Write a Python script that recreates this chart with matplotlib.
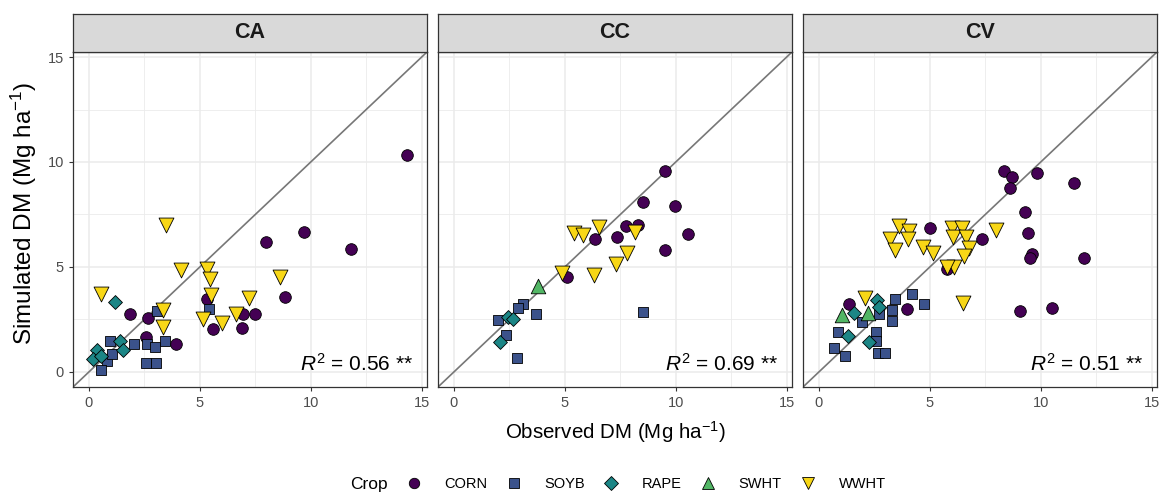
import numpy as np
import matplotlib.pyplot as plt
from matplotlib.lines import Line2D
from matplotlib.ticker import MultipleLocator

plt.rcParams['font.family'] = ['Liberation Sans', 'DejaVu Sans']
plt.rcParams['mathtext.fontset'] = 'custom'
plt.rcParams['mathtext.rm'] = 'Liberation Sans'
plt.rcParams['mathtext.it'] = 'Liberation Sans:italic'

CROPS = ["CORN", "SOYB", "RAPE", "SWHT", "WWHT"]
SITES = ["CA", "CC", "CV"]
R2_LABELS = ["0.56", "0.69", "0.51"]

# observed / simulated DM per site, one list per crop
CA_OBS = {
    "CORN": [1.87, 2.64, 2.58, 3.93, 5.31, 5.58, 6.93, 7.5, 6.88, 8.85, 8.0, 9.7, 11.8, 14.33],
    "SOYB": [3.07, 5.43, 0.97, 2.02, 2.62, 2.97, 3.45, 0.82, 1.02, 0.52, 2.58, 3.03],
    "RAPE": [1.17, 0.37, 0.19, 0.52, 1.38, 1.53],
    "SWHT": [],
    "WWHT": [0.52, 4.15, 5.34, 5.47, 5.5, 7.23, 8.59, 3.34, 3.33, 5.16, 6.0, 6.63, 3.46],
}
CA_SIM = {
    "CORN": [2.75, 2.59, 1.67, 1.35, 3.46, 2.03, 2.78, 2.78, 2.11, 3.59, 6.21, 6.66, 5.87, 10.33],
    "SOYB": [2.9, 2.98, 1.48, 1.35, 1.32, 1.19, 1.48, 0.52, 0.87, 0.08, 0.41, 0.44],
    "RAPE": [3.35, 1.03, 0.6, 0.76, 1.48, 1.03],
    "SWHT": [],
    "WWHT": [3.7, 4.84, 4.89, 4.41, 3.65, 3.54, 4.54, 2.94, 2.14, 2.54, 2.35, 2.75, 7.0],
}

CC_OBS = {
    "CORN": [9.5, 8.53, 9.98, 7.75, 8.3, 6.35, 7.36, 10.57, 9.5, 5.1],
    "SOYB": [3.12, 2.9, 3.69, 8.5, 2.0, 2.34, 2.82],
    "RAPE": [2.45, 2.64, 2.07],
    "SWHT": [3.8],
    "WWHT": [5.41, 5.8, 6.53, 8.18, 7.8, 7.3, 4.85, 6.31],
}
CC_SIM = {
    "CORN": [9.57, 8.11, 7.92, 6.95, 7.0, 6.32, 6.44, 6.57, 5.81, 4.54],
    "SOYB": [3.24, 3.02, 2.75, 2.83, 2.48, 1.76, 0.65],
    "RAPE": [2.63, 2.51, 1.44],
    "SWHT": [4.1],
    "WWHT": [6.6, 6.52, 6.92, 6.68, 5.68, 5.14, 4.73, 4.62],
}

CV_OBS = {
    "CORN": [8.32, 8.71, 8.62, 9.83, 11.52, 9.31, 9.41, 9.61, 9.53, 11.97, 5.02, 7.35, 5.77,
             9.07, 10.5, 3.95, 1.37],
    "SOYB": [4.2, 3.45, 4.74, 3.27, 2.69, 3.27, 1.94, 0.87, 2.57, 2.57, 0.68, 1.17, 2.64, 2.97],
    "RAPE": [2.6, 2.7, 1.59, 1.32, 2.27],
    "SWHT": [1.05, 2.22],
    "WWHT": [3.59, 4.05, 3.22, 4.03, 3.43, 4.68, 5.13, 6.0, 6.45, 6.03, 6.62, 7.98, 6.75, 6.53,
             6.1, 5.77, 6.51, 2.09],
}
CV_SIM = {
    "CORN": [9.59, 9.27, 8.78, 9.49, 8.98, 7.63, 6.6, 5.62, 5.44, 5.44, 6.87, 6.33, 4.89,
             2.92, 3.06, 2.98, 3.22],
    "SOYB": [3.71, 3.46, 3.22, 2.95, 2.76, 2.44, 2.4, 1.92, 1.92, 1.49, 1.13, 0.76, 0.89, 0.92],
    "RAPE": [3.43, 3.11, 2.79, 1.73, 1.44],
    "SWHT": [2.71, 2.79],
    "WWHT": [6.95, 6.73, 6.32, 6.32, 5.81, 5.97, 5.68, 6.87, 6.84, 6.41, 6.41, 6.76, 5.92, 5.52,
             4.98, 5.02, 3.3, 3.51],
}

OBS = [CA_OBS, CC_OBS, CV_OBS]
SIM = [CA_SIM, CC_SIM, CV_SIM]

COLORS = {"CORN": "#440154", "SOYB": "#3B528B", "RAPE": "#1C8686",
          "SWHT": "#52B665", "WWHT": "#F8D716"}
MARKERS = {"CORN": "o", "SOYB": "s", "RAPE": "D", "SWHT": "^", "WWHT": "v"}
SIZES = {"CORN": 70, "SOYB": 60, "RAPE": 50, "SWHT": 110, "WWHT": 115}

W, H = 1161, 493
LIM = (-0.72, 15.24)


def box(l, t, r, b):
    return [l / W, 1 - b / H, (r - l) / W, (b - t) / H]


fig = plt.figure(figsize=(W / 100, H / 100), dpi=100)

for i, site in enumerate(SITES):
    left = 73 + i * 365
    ax = fig.add_axes(box(left, 52, left + 354, 387))
    ax.set_xlim(LIM)
    ax.set_ylim(LIM)
    ax.xaxis.set_major_locator(MultipleLocator(5))
    ax.yaxis.set_major_locator(MultipleLocator(5))
    ax.xaxis.set_minor_locator(MultipleLocator(2.5))
    ax.yaxis.set_minor_locator(MultipleLocator(2.5))
    ax.grid(which='major', color='#EBEBEB', lw=1.1)
    ax.grid(which='minor', color='#EBEBEB', lw=0.6)
    ax.set_axisbelow(True)
    ax.tick_params(which='minor', length=0)
    ax.tick_params(which='major', length=3, color='#333333', labelcolor='#4D4D4D',
                   labelsize=10.5, width=0.8)
    for sp in ax.spines.values():
        sp.set_color('#333333')
        sp.set_linewidth(0.9)
    if i > 0:
        ax.tick_params(axis='y', left=False, labelleft=False)

    ax.plot(LIM, LIM, color='#777777', lw=1.2, zorder=1)

    for crop in CROPS:
        ax.scatter(OBS[i][crop], SIM[i][crop], s=SIZES[crop], marker=MARKERS[crop],
                   facecolor=COLORS[crop], edgecolor='black', linewidths=0.6, zorder=3)

    ax.text(14.6, 0.38, r"$\it{R}^2$ = " + R2_LABELS[i] + " **", ha='right', va='center',
            fontsize=15, color='black')

    strip = fig.add_axes(box(left, 14, left + 354, 52))
    strip.set_facecolor('#D9D9D9')
    strip.set_xticks([])
    strip.set_yticks([])
    for sp in strip.spines.values():
        sp.set_color('#333333')
        sp.set_linewidth(0.9)
    strip.text(0.5, 0.5, site, ha='center', va='center', fontsize=15.5,
               fontweight='bold', color='#1A1A1A', transform=strip.transAxes)

fig.text(615 / W, 1 - 432 / H, 'Observed DM (Mg ha$^{-1}$)', ha='center', va='center',
         fontsize=14.8)
fig.text(24 / W, 1 - 213 / H, 'Simulated DM (Mg ha$^{-1}$)', ha='center', va='center',
         fontsize=17.5, rotation=90)

handles = [Line2D([], [], ls='none', marker=MARKERS[c], markersize=8.5 if c in ("SWHT", "WWHT") else 7.5,
                  markerfacecolor=COLORS[c], markeredgecolor='black', markeredgewidth=0.6)
           for c in CROPS]
fig.legend(handles, CROPS, ncol=5, loc='center', bbox_to_anchor=(646 / W, 1 - 484 / H),
           frameon=False, fontsize=10.5, handletextpad=1.62, columnspacing=1.28,
           handlelength=1.0, borderaxespad=0, borderpad=0)
fig.text(350 / W, 1 - 484 / H, 'Crop', ha='left', va='center', fontsize=12.5)

fig.savefig('out.png', dpi=100)
